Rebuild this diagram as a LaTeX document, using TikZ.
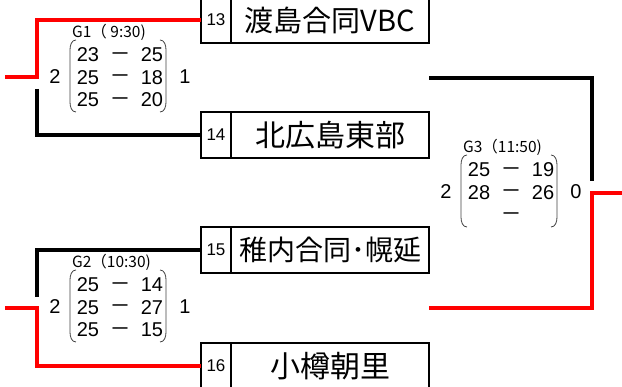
\documentclass[tikz,border=0pt]{standalone}
\usepackage{fontspec}
\usetikzlibrary{positioning}
\setmainfont{Liberation Sans}
\newfontfamily\jpfont{Noto Sans CJK JP}

\tikzset{
  winline/.style={red, line width=4pt},
  loseline/.style={black, line width=4pt},
  numbox/.style={draw, line width=1.6pt, minimum width=30pt, minimum height=46pt,
    inner sep=0pt, outer sep=0pt, font=\fontsize{17}{17}\selectfont},
  namebox/.style={draw, line width=1.6pt, minimum width=198pt, minimum height=46pt,
    inner sep=0pt, outer sep=0pt, font=\jpfont\fontsize{29}{29}\selectfont},
  paren/.style={line width=0.8pt, black!75},
  pt/.style={inner sep=0pt, font=\fontsize{20}{20}\selectfont},
  vsmark/.style={inner sep=0pt, font=\bfseries\fontsize{15}{15}\selectfont},
  gamelabel/.style={anchor=west, inner sep=0pt, font=\jpfont\fontsize{15.5}{15.5}\selectfont},
}

\begin{document}
\begin{tikzpicture}[x=1pt, y=-1pt]
        \useasboundingbox (0,0) rectangle (622,387);
        % teams
        \node[numbox] (n13) at (216,20) {13};
        \node[namebox, right=0pt of n13] (t13) {渡島合同VBC};
        \node[numbox] (n14) at (216,135) {14};
        \node[namebox, right=0pt of n14, font=\jpfont\fontsize{30}{30}\selectfont] (t14) {北広島東部};
        \node[numbox] (n15) at (216,250) {15};
        \node[namebox, right=0pt of n15, font=\jpfont\fontsize{28}{28}\selectfont] (t15) {稚内合同･幌延};
        \node[numbox] (n16) at (216,366) {16};
        \node[namebox, right=0pt of n16, font=\jpfont\fontsize{30}{30}\selectfont] (t16) {小樽朝里};
        % bracket lines
        \coordinate (in1) at (5,77);
        \coordinate (k1) at (37,77);
        \coordinate (k1b) at (37,89);
        \coordinate (in2) at (5,308);
        \coordinate (k2) at (37,308);
        \coordinate (k2b) at (37,297);
        \coordinate (out1) at (429,78);
        \coordinate (k3b) at (592,181);
        \coordinate (out2) at (429,308);
        \coordinate (k3) at (592,193);
        \coordinate (in3) at (622,193);
        \draw[winline] (in1) -- (k1) |- (n13.west);
        \draw[loseline] (k1b) |- (n14.west);
        \draw[loseline] (k2b) |- (n15.west);
        \draw[winline] (in2) -- (k2) |- (n16.west);
        \draw[loseline] (out1) -| (k3b);
        \draw[winline] (out2) -| (k3) -- (in3);
        % G1
        \begin{scope}
            \node[gamelabel] (g1) at (72,32) {G1（ 9:30)};
            \node[pt] (g1w) at (55,77) {2};
            \node[pt] (g1s) at (185,77) {1};
            \draw[paren] (76,40) to[out=180,in=90] (70,50) -- (70,102) to[out=-90,in=180] (76,112);
            \draw[paren] (160,40) to[out=0,in=90] (166,50) -- (166,102) to[out=-90,in=0] (160,112);
            \foreach \a/\b [count=\i] in {23/25,25/18,25/20} {
                \node[pt] (g1a\i) at (88,{32.5+22.5*\i}) {\a};
                \node[vsmark] (g1d\i) at (120,{32.5+22.5*\i}) {—};
                \node[pt] (g1b\i) at (152,{32.5+22.5*\i}) {\b};
            }
        \end{scope}
        % G2
        \begin{scope}[shift={(0,230)}]
            \node[gamelabel] (g2) at (72,32) {G2（10:30)};
            \node[pt] (g2w) at (55,77) {2};
            \node[pt] (g2s) at (185,77) {1};
            \draw[paren] (76,40) to[out=180,in=90] (70,50) -- (70,102) to[out=-90,in=180] (76,112);
            \draw[paren] (160,40) to[out=0,in=90] (166,50) -- (166,102) to[out=-90,in=0] (160,112);
            \foreach \a/\b [count=\i] in {25/14,25/27,25/15} {
                \node[pt] (g2a\i) at (88,{32.5+22.5*\i}) {\a};
                \node[vsmark] (g2d\i) at (120,{32.5+22.5*\i}) {—};
                \node[pt] (g2b\i) at (152,{32.5+22.5*\i}) {\b};
            }
        \end{scope}
        % G3
        \begin{scope}[shift={(391,115)}]
            \node[gamelabel] (g3) at (72,32) {G3（11:50)};
            \node[pt] (g3w) at (55,77) {2};
            \node[pt] (g3s) at (185,77) {0};
            \draw[paren] (76,40) to[out=180,in=90] (70,50) -- (70,102) to[out=-90,in=180] (76,112);
            \draw[paren] (160,40) to[out=0,in=90] (166,50) -- (166,102) to[out=-90,in=0] (160,112);
            \foreach \a/\b [count=\i] in {25/19,28/26} {
                \node[pt] (g3a\i) at (88,{32.5+22.5*\i}) {\a};
                \node[pt] (g3b\i) at (152,{32.5+22.5*\i}) {\b};
            }
            \foreach \i in {1,2,3}
                \node[vsmark] (g3d\i) at (120,{32.5+22.5*\i}) {—};
        \end{scope}
\end{tikzpicture}
\end{document}
